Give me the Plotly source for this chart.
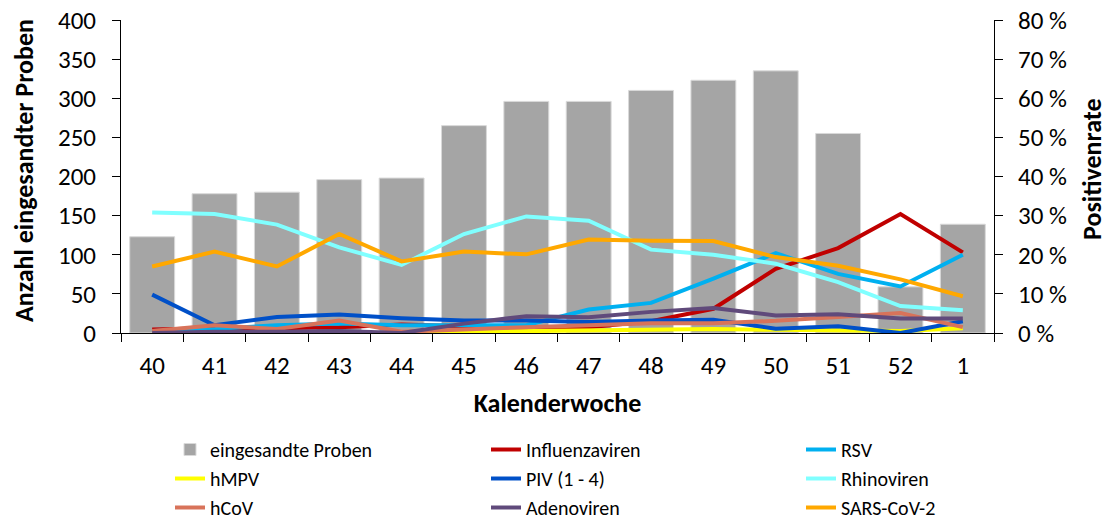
import plotly.graph_objects as go

weeks = ["40", "41", "42", "43", "44", "45", "46", "47", "48", "49", "50", "51", "52", "1"]
proben = [123, 178, 180, 196, 198, 265, 296, 296, 310, 323, 335, 255, 59, 139]

influenza = [0.9, 1.2, 1.2, 1.5, 2.2, 1.7, 0.8, 1.5, 3.0, 6.2, 16.4, 21.7, 30.4, 20.6]
rsv = [0.5, 1.0, 2.0, 2.4, 2.0, 2.0, 2.0, 6.0, 7.7, 13.9, 20.4, 15.1, 11.9, 20.0]
hmpv = [0.0, 0.0, 0.0, 0.0, 0.0, 0.3, 0.5, 0.8, 0.8, 1.0, 0.8, 0.7, 0.5, 1.2]
piv = [9.8, 2.0, 4.1, 4.7, 3.8, 3.2, 3.2, 2.8, 3.2, 3.4, 1.1, 1.7, 0.0, 3.0]
rhino = [30.8, 30.4, 27.7, 21.9, 17.4, 25.3, 29.8, 28.7, 21.3, 20.0, 17.7, 13.0, 6.9, 5.8]
hcov = [0.5, 2.0, 1.0, 3.2, 0.3, 1.0, 1.5, 2.0, 2.5, 2.5, 3.1, 4.1, 5.1, 1.5]
adeno = [0.0, 0.3, 0.3, 0.5, 0.0, 2.4, 4.3, 4.0, 5.4, 6.4, 4.5, 4.8, 3.7, 3.7]
sars = [17.0, 20.8, 17.0, 25.3, 18.3, 20.8, 20.1, 23.9, 23.6, 23.5, 19.4, 17.2, 13.7, 9.4]

FONT = "Carlito, Calibri, Lato, sans-serif"

fig = go.Figure()
fig.add_trace(go.Bar(
    x=weeks, y=proben, name="eingesandte Proben",
    marker=dict(color="#A5A5A5", line=dict(color="#D9D9D9", width=1)),
    yaxis="y", legend="legend",
))

series = [
    ("Influenzaviren", influenza, "#C00000", "legend2"),
    ("RSV", rsv, "#00B0F0", "legend3"),
    ("hMPV", hmpv, "#FFFF00", "legend"),
    ("PIV (1 - 4)", piv, "#0050C8", "legend2"),
    ("Rhinoviren", rhino, "#80FFFF", "legend3"),
    ("hCoV", hcov, "#D8735A", "legend"),
    ("Adenoviren", adeno, "#604A7B", "legend2"),
    ("SARS-CoV-2", sars, "#FFA800", "legend3"),
]
for name, vals, color, lg in series:
    fig.add_trace(go.Scatter(
        x=weeks, y=vals, name=name, mode="lines",
        line=dict(color=color, width=4),
        yaxis="y2", legend=lg,
    ))

leg_common = dict(
    xref="container", yref="container", yanchor="top", xanchor="left",
    orientation="v", font=dict(family=FONT, size=20, color="#000000"),
    bgcolor="rgba(0,0,0,0)", tracegroupgap=0,
)
y_leg = 1 - 430 / 520

fig.update_layout(
    width=1108, height=520,
    margin=dict(l=121, r=114, t=20, b=187, autoexpand=False),
    plot_bgcolor="white", paper_bgcolor="white",
    font=dict(family=FONT, color="#000000"),
    bargap=0.28,
    xaxis=dict(
        type="category", showline=True, linecolor="#000000", linewidth=1,
        ticks="outside", ticklen=8, tickcolor="#000000", tickson="boundaries",
        tickfont=dict(size=25), showgrid=False, ticklabelstandoff=10,
        automargin=False,
        title=dict(text="<b>Kalenderwoche</b>", font=dict(size=26), standoff=13),
    ),
    yaxis=dict(
        range=[0, 400], dtick=50, showline=True, linecolor="#000000", linewidth=1,
        ticks="outside", ticklen=8, tickcolor="#000000", showgrid=False,
        tickfont=dict(size=25), ticklabelstandoff=11, zeroline=False,
        automargin=False,
    ),
    yaxis2=dict(
        range=[0, 80], dtick=10, ticksuffix=" %", overlaying="y", side="right",
        showline=True, linecolor="#000000", linewidth=1,
        ticks="outside", ticklen=8, tickcolor="#000000", showgrid=False,
        tickfont=dict(size=25), ticklabelstandoff=10, zeroline=False,
        automargin=False,
    ),
    legend=dict(x=170 / 1108, y=y_leg, **leg_common),
    legend2=dict(x=486 / 1108, y=y_leg, **leg_common),
    legend3=dict(x=801 / 1108, y=y_leg, **leg_common),
    annotations=[
        dict(text="<b>Anzahl eingesandter Proben</b>", textangle=-90,
             xref="paper", yref="paper", x=(24 - 121) / 873, y=(333 - 171) / 313,
             xanchor="center", yanchor="middle", showarrow=False,
             font=dict(family=FONT, size=26, color="#000000")),
        dict(text="<b>Positivenrate</b>", textangle=-90,
             xref="paper", yref="paper", x=(1092 - 121) / 873, y=(333 - 169) / 313,
             xanchor="center", yanchor="middle", showarrow=False,
             font=dict(family=FONT, size=26, color="#000000")),
    ],
)

fig.write_html("out.html", config={"displayModeBar": False},
               post_script="document.body.style.margin='0px';")
